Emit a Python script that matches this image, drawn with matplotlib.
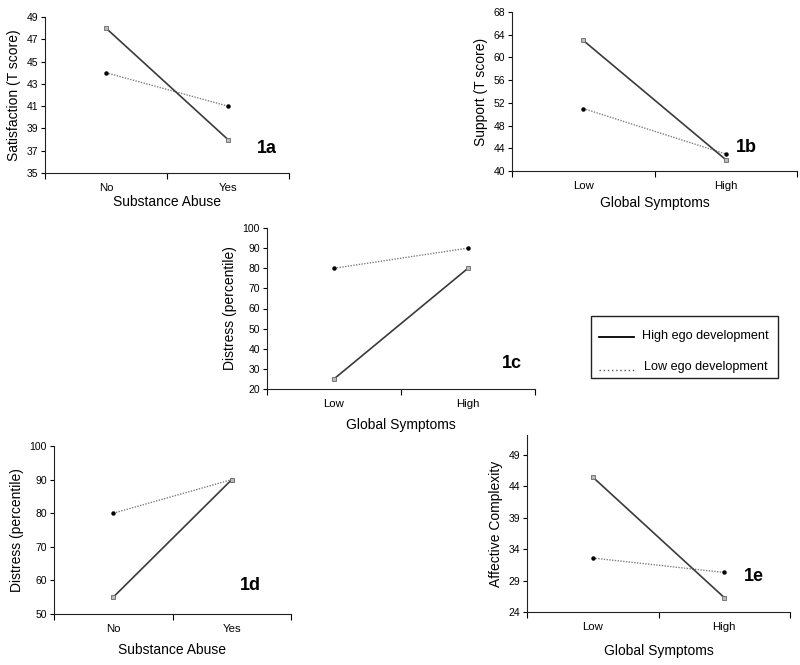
import matplotlib
matplotlib.use("Agg")
import matplotlib.pyplot as plt
from matplotlib.lines import Line2D
from matplotlib.patches import Rectangle

plt.rcParams['font.family'] = ['Liberation Sans', 'DejaVu Sans']

#%% Data
abuse_cats = ["No", "Yes"]
symptom_cats = ["Low", "High"]

# 1a Satisfaction
sat_high = [48, 38]
sat_low = [44, 41]
sat_ticks = [35, 37, 39, 41, 43, 45, 47, 49]

# 1b Support
sup_high = [63, 42]
sup_low = [51, 43]
sup_ticks = [40, 44, 48, 52, 56, 60, 64, 68]

# 1c Distress vs global symptoms
dis_sym_high = [25, 80]
dis_sym_low = [80, 90]
dis_sym_ticks = [20, 30, 40, 50, 60, 70, 80, 90, 100]

# 1d Distress vs substance abuse
dis_ab_high = [55, 90]
dis_ab_low = [80, 90]
dis_ab_ticks = [50, 60, 70, 80, 90, 100]

# 1e Affective complexity
aff_high = [45.5, 26.3]
aff_low = [32.6, 30.3]
aff_ticks = [24, 29, 34, 39, 44, 49]

legend_labels = ["High ego development", "Low ego development"]

W, H = 800, 665
fig = plt.figure(figsize=(W / 100, H / 100), dpi=100)


def px_axes(x0, x1, ytop, ybot):
    # axes box given in pixel coords of the picture
    return fig.add_axes([x0 / W, 1 - ybot / H, (x1 - x0) / W, (ybot - ytop) / H])


def panel(ax, cats, high, low, yticks, ylim, ylabel, xlabel, tag, tagpos,
          ylab_fs=10, xlab_fs=10, xlab_pad=4):
    xs = list(range(len(cats)))
    ax.plot(xs, low, linestyle=(0, (1, 1)), color="#808080", lw=1.0,
            marker="o", ms=2.2, mfc="black", mec="black", zorder=3)
    ax.plot(xs, high, linestyle="-", color="#3a3a3a", lw=1.2,
            marker="s", ms=2.6, mfc="#bbbbbb", mec="#666666", mew=0.6, zorder=4)
    ax.set_xlim(-0.5, len(cats) - 0.5)
    ax.set_ylim(*ylim)
    ax.set_yticks(yticks)
    ax.set_xticks([-0.5, 0.5, 1.5])
    ax.set_xticklabels([])
    ax.set_xticks(xs, minor=True)
    ax.set_xticklabels(cats, minor=True, fontsize=8.2)
    ax.tick_params(axis="x", which="major", direction="out", length=4, width=0.8)
    ax.tick_params(axis="x", which="minor", length=0, pad=7)
    ax.tick_params(axis="y", direction="out", length=3, width=0.8, labelsize=7.5, pad=2)
    for s in ["top", "right"]:
        ax.spines[s].set_visible(False)
    for s in ["left", "bottom"]:
        ax.spines[s].set_linewidth(0.8)
        ax.spines[s].set_color("#222222")
    ax.set_ylabel(ylabel, fontsize=ylab_fs, labelpad=4)
    ax.set_xlabel(xlabel, fontsize=xlab_fs, labelpad=xlab_pad)
    ax.text(tagpos[0], tagpos[1], tag, transform=ax.transAxes, fontsize=13,
            fontweight="bold", ha="left", va="center")


ax_a = px_axes(45, 289, 17, 173)
panel(ax_a, abuse_cats, sat_high, sat_low, sat_ticks, (35, 49),
      "Satisfaction (T score)", "Substance Abuse", "1a", (0.87, 0.16), xlab_pad=2)

ax_b = px_axes(512, 797, 12, 171)
panel(ax_b, symptom_cats, sup_high, sup_low, sup_ticks, (40, 68),
      "Support (T score)", "Global Symptoms", "1b", (0.785, 0.15), xlab_pad=4)

ax_c = px_axes(267, 535, 228, 389)
panel(ax_c, symptom_cats, dis_sym_high, dis_sym_low, dis_sym_ticks, (20, 100),
      "Distress (percentile)", "Global Symptoms", "1c", (0.877, 0.16), xlab_pad=7)

ax_d = px_axes(54, 291, 446, 614)
panel(ax_d, abuse_cats, dis_ab_high, dis_ab_low, dis_ab_ticks, (50, 100),
      "Distress (percentile)", "Substance Abuse", "1d", (0.785, 0.17), xlab_pad=7)

ax_e = px_axes(527, 790, 435, 612)
panel(ax_e, symptom_cats, aff_high, aff_low, aff_ticks, (24, 52.2),
      "Affective Complexity", "Global Symptoms", "1e", (0.825, 0.2), xlab_pad=9)

# shared legend, drawn by hand in figure pixels
fig.add_artist(Rectangle((591 / W, 1 - 378 / H), (778 - 591) / W, (378 - 316) / H,
                         transform=fig.transFigure, fill=False,
                         edgecolor="#222222", lw=1.0))
fig.add_artist(Line2D([599 / W, 634 / W], [1 - 337 / H, 1 - 337 / H],
                      transform=fig.transFigure, color="black", lw=1.3))
fig.add_artist(Line2D([599 / W, 635 / W], [1 - 370 / H, 1 - 370 / H],
                      transform=fig.transFigure, color="#555555", lw=1.0,
                      linestyle=(0, (1, 2))))
fig.text(642 / W, 1 - 336 / H, legend_labels[0], fontsize=9.1, va="center", ha="left")
fig.text(644 / W, 1 - 367 / H, legend_labels[1], fontsize=9.1, va="center", ha="left")

fig.savefig("out.png", dpi=100)
